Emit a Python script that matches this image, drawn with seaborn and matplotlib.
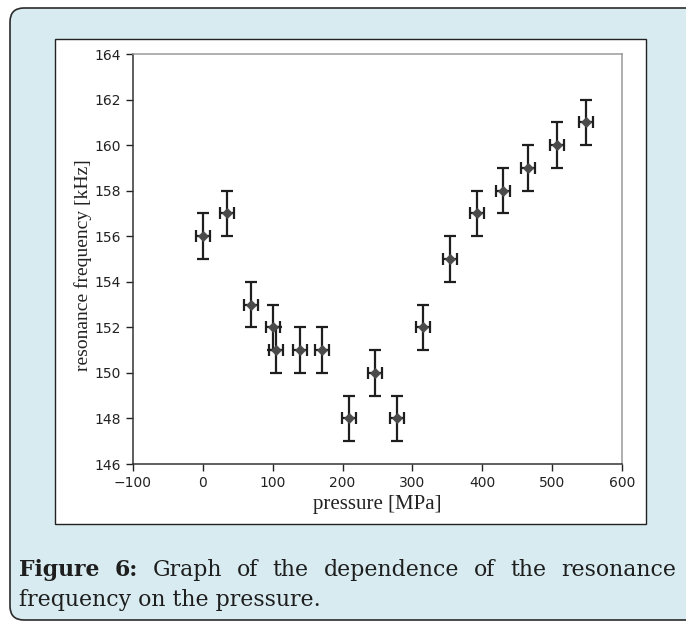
import numpy as np
import pandas as pd
import matplotlib
matplotlib.use("Agg")
import matplotlib.pyplot as plt
import seaborn as sns
from matplotlib.patches import FancyBboxPatch, Rectangle
from matplotlib.transforms import IdentityTransform

# data
pressure = [0, 34, 69, 100, 105, 139, 170, 209, 246, 278, 315, 354, 392, 429, 466, 507, 548]
frequency = [156, 157, 153, 152, 151, 151, 151, 148, 150, 148, 152, 155, 157, 158, 159, 160, 161]
pressure_err = [10] * len(pressure)
frequency_err = [1] * len(pressure)

x_ticks = [-100, 0, 100, 200, 300, 400, 500, 600]
y_ticks = [146, 148, 150, 152, 154, 156, 158, 160, 162, 164]

caption_bold = ["Figure", "6:"]
caption_line1 = ["Graph", "of", "the", "dependence", "of", "the", "resonance"]
caption_line2 = "frequency on the pressure."

df = pd.DataFrame({"pressure": pressure, "frequency": frequency,
                   "dp": pressure_err, "df": frequency_err})

W, H = 686, 624
sns.set_style("ticks")
plt.rcParams["font.family"] = ["DejaVu Sans"]

fig = plt.figure(figsize=(W / 100, H / 100), dpi=100)
fig.patch.set_facecolor("white")

# light blue panel and white frame (pixel coords, y from top)
def pbox(x0, y0, x1, y1):
    return x0, H - y1, x1 - x0, y1 - y0

x, y, w, h = pbox(10, 8, 720, 620)
fig.patches.append(FancyBboxPatch((x, y), w, h, boxstyle="round,pad=0,rounding_size=14",
                                  transform=IdentityTransform(), facecolor="#d7ebf0",
                                  edgecolor="#2b2b2b", linewidth=1.2, zorder=0))
x, y, w, h = pbox(55, 39, 646, 524)
fig.patches.append(Rectangle((x, y), w, h, transform=IdentityTransform(),
                             facecolor="white", edgecolor="#222222", linewidth=1.0, zorder=1))

ax = fig.add_axes([133 / W, 1 - 464 / H, 489 / W, 410 / H])
ax.set_zorder(2)

ax.errorbar(df["pressure"], df["frequency"], xerr=df["dp"], yerr=df["df"],
            fmt="none", ecolor="#1e1e1e", elinewidth=1.6, capsize=4, capthick=1.6, zorder=2)
sns.scatterplot(data=df, x="pressure", y="frequency", marker="D", s=28,
                color="#4a4a4a", edgecolor="#4a4a4a", ax=ax, zorder=3)

ax.set_xlim(-100, 600)
ax.set_ylim(146, 164)
ax.set_xticks(x_ticks)
ax.set_yticks(y_ticks)
ax.set_xticklabels(["\u2212100" if v < 0 else str(v) for v in x_ticks])
ax.tick_params(direction="out", length=5, width=1, labelsize=10, colors="#222222")

for side in ["left", "bottom"]:
    ax.spines[side].set_color("#333333")
    ax.spines[side].set_linewidth(1.1)
for side in ["top", "right"]:
    ax.spines[side].set_visible(True)
    ax.spines[side].set_color("#9a9a9a")
    ax.spines[side].set_linewidth(1.1)

ax.set_xlabel("pressure [MPa]", family="Liberation Serif", fontsize=15, color="#222222", labelpad=4)
ax.set_ylabel("resonance frequency [kHz]", family="Liberation Serif", fontsize=14, color="#222222", labelpad=2)
ax.yaxis.label.set_y(0.484)

# caption, first line justified
cap_font = dict(family="DejaVu Serif", fontsize=15.8, color="#1e1e1e")
renderer = fig.canvas.get_renderer()
words = [(wd, "bold") for wd in caption_bold] + [(wd, "normal") for wd in caption_line1]
texts = []
for wd, wt in words:
    t = fig.text(0, 0, wd, weight=wt, transform=IdentityTransform(), va="baseline", **cap_font)
    texts.append(t)
widths = [t.get_window_extent(renderer).width for t in texts]
left, right = 19, 676
gap = (right - left - sum(widths)) / (len(texts) - 1)
xpos = left
for t, wdt in zip(texts, widths):
    t.set_position((xpos, H - 576))
    xpos += wdt + gap

fig.text(left, H - 606, caption_line2, transform=IdentityTransform(), va="baseline", **cap_font)

plt.savefig("out.png", dpi=100, facecolor=fig.get_facecolor())
